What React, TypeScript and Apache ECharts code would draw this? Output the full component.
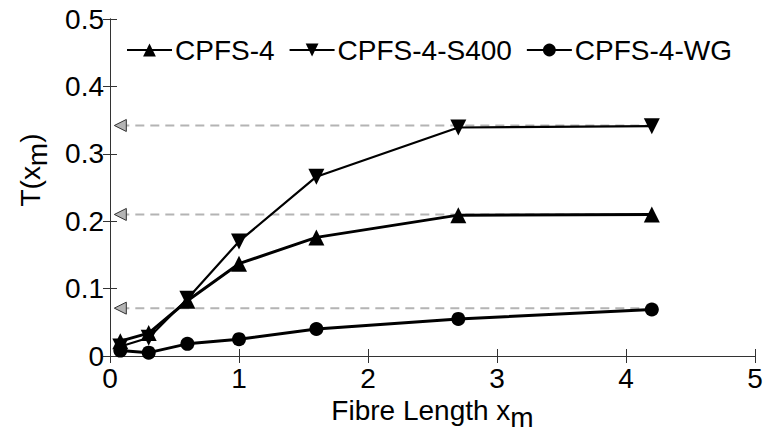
import React, { useEffect, useRef } from "react";
import * as echarts from "echarts";

const xValues = [0.08, 0.3, 0.6, 1.0, 1.6, 2.7, 4.2];
const cpfs4 = [0.022, 0.034, 0.082, 0.137, 0.176, 0.209, 0.21];
const cpfs4S400 = [0.014, 0.027, 0.085, 0.17, 0.266, 0.339, 0.341];
const cpfs4WG = [0.008, 0.005, 0.018, 0.025, 0.04, 0.055, 0.069];
const refLevels = [0.342, 0.21, 0.071];
const refStart = 0.08;
const refEnd = 4.2;
const seriesNames = ["CPFS-4", "CPFS-4-S400", "CPFS-4-WG"];

const FONT = "Liberation Sans, Arial, sans-serif";
const FS = 28;

export default function App() {
  const ref = useRef<HTMLDivElement>(null);
  useEffect(() => {
    if (!ref.current) return;
    const chart = echarts.init(ref.current, null, { renderer: "svg" });
    const pair = (ys: number[]) => xValues.map((x, i) => [x, ys[i]]);
    const axisCommon = {
      type: "value" as const,
      axisLine: { show: true, lineStyle: { color: "#333", width: 1 } },
      axisTick: { show: true, inside: true, length: 7, lineStyle: { color: "#333" } },
      splitLine: { show: false },
    };
    const rich = {
      sub: { fontSize: FS, color: "#000", fontFamily: FONT, verticalAlign: "bottom", padding: [14, 0, 0, 0] },
    };
    const nameStyle = { fontSize: FS, color: "#000", fontFamily: FONT, rich };
    const refSeries = refLevels.map((v) => ({
      type: "line",
      name: "ref" + v,
      data: [
        { value: [refStart, v], symbol: "triangle", symbolRotate: 90, symbolSize: 12 },
        { value: [refEnd, v], symbol: "none" },
      ],
      lineStyle: { color: "#b4b4b4", width: 2, type: [9, 6] },
      itemStyle: { color: "#b4b4b4", borderColor: "#333", borderWidth: 1 },
      z: 1,
      silent: true,
    }));
    chart.setOption({
      animation: false,
      textStyle: { fontFamily: FONT },
      grid: { left: 110, right: 8, top: 19, bottom: 76, containLabel: false, outerBoundsMode: "none" },
      legend: {
        data: seriesNames,
        left: 126,
        top: 36,
        itemWidth: 45,
        itemHeight: 16,
        itemGap: 14,
        textStyle: { fontSize: FS, color: "#000", fontFamily: FONT, padding: [0, 0, 0, -2] },
        padding: 0,
      },
      graphic: [
        {
          type: "text",
          x: 30,
          y: 170,
          rotation: Math.PI / 2,
          style: {
            text: "T(x{sub|m})",
            fontSize: FS,
            fontFamily: FONT,
            fill: "#000",
            align: "center",
            verticalAlign: "middle",
            rich,
          },
        },
      ],
      xAxis: [
        {
          ...axisCommon,
          min: 0,
          max: 5,
          interval: 1,
          position: "bottom",
          axisLabel: { fontSize: FS, color: "#000", fontFamily: FONT, margin: 8 },
          name: "Fibre Length x{sub|m}",
          nameLocation: "middle",
          nameGap: 33,
          nameTextStyle: nameStyle,
        },
        {
          ...axisCommon,
          min: 0,
          max: 5,
          interval: 1,
          position: "top",
          axisLabel: { show: false },
        },
      ],
      yAxis: [
        {
          ...axisCommon,
          min: 0,
          max: 0.5,
          interval: 0.1,
          position: "left",
          axisLabel: { fontSize: FS, color: "#000", fontFamily: FONT, margin: 6 },
        },
        {
          ...axisCommon,
          min: 0,
          max: 0.5,
          interval: 0.1,
          position: "right",
          axisLabel: { show: false },
        },
      ],
      series: [
        ...refSeries,
        {
          type: "line",
          name: seriesNames[0],
          data: pair(cpfs4),
          symbol: "triangle",
          symbolSize: 16,
          lineStyle: { color: "#000", width: 3 },
          itemStyle: { color: "#000" },
          z: 3,
        },
        {
          type: "line",
          name: seriesNames[1],
          data: pair(cpfs4S400),
          symbol: "triangle",
          symbolRotate: 180,
          symbolSize: 16,
          lineStyle: { color: "#000", width: 2.2 },
          itemStyle: { color: "#000" },
          z: 3,
        },
        {
          type: "line",
          name: seriesNames[2],
          data: pair(cpfs4WG),
          symbol: "circle",
          symbolSize: 14,
          lineStyle: { color: "#000", width: 3 },
          itemStyle: { color: "#000" },
          z: 3,
        },
      ],
    });
    return () => chart.dispose();
  }, []);
  return (
    <div
      ref={ref}
      style={{ position: "fixed", left: 0, top: 0, width: 763, height: 432, background: "#fff" }}
    />
  );
}
